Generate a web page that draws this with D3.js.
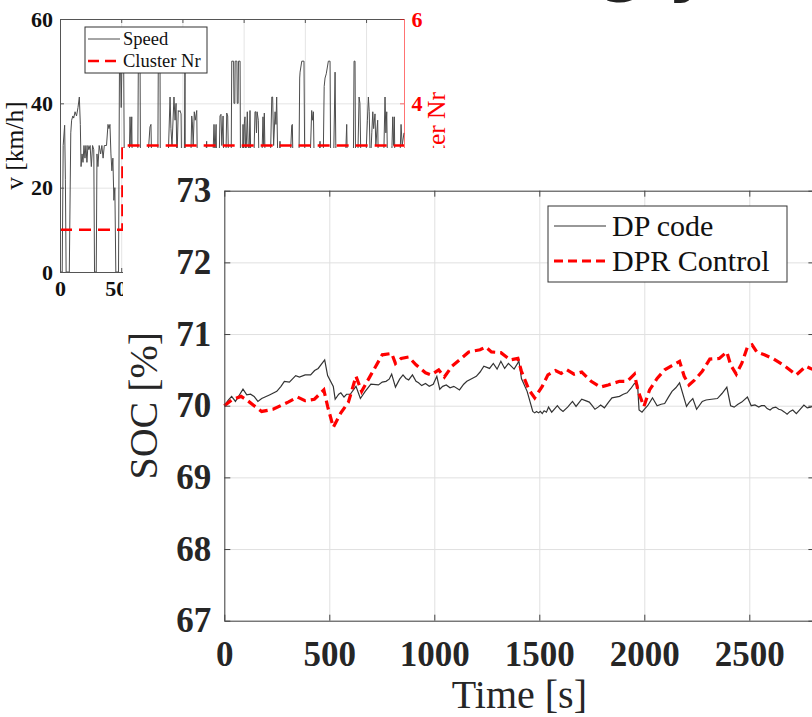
<!DOCTYPE html>
<html>
<head>
<meta charset="utf-8">
<script src="https://cdn.jsdelivr.net/npm/d3@7"></script>
<style>
  html, body { margin: 0; padding: 0; background: #fff; overflow: hidden; }
  svg { display: block; }
</style>
</head>
<body>
<svg id="chart" width="812" height="717"></svg>
<script>
// ---------- data ----------
const timeMax = 2810;
const timeTicks = [0, 500, 1000, 1500, 2000, 2500];
const socTicks = [67, 68, 69, 70, 71, 72, 73];
const speedTicks = [0, 20, 40, 60];
const clusterTicks = [0, 2, 4, 6];

// SOC trajectory of the DP code [time s, SOC %]
const dpCode = [
  [0,70.0],[20,70.08],[35,70.13],[53,70.06],[72,70.15],[89,70.23],[107,70.15],[125,70.16],[142,70.13],[160,70.06],[178,70.1],
  [215,70.15],[250,70.2],[270,70.27],[286,70.34],[310,70.33],[340,70.42],[358,70.4],[385,70.43],[411,70.43],[430,70.49],[447,70.52],[478,70.64],[492,70.42],
  [519,70.27],[528,70.09],[545,70.16],[555,70.18],[570,70.12],[582,70.16],[600,70.16],[627,70.27],[648,70.1],[671,70.2],
  [698,70.3],[734,70.29],[752,70.33],[770,70.34],[785,70.37],[797,70.44],[815,70.26],[835,70.37],[851,70.43],[865,70.38],[878,70.36],[896,70.43],
  [913,70.34],[925,70.32],[940,70.28],[958,70.31],[976,70.27],[995,70.3],[1012,70.41],[1026,70.23],[1040,70.27],[1057,70.29],[1075,70.25],[1093,70.27],
  [1120,70.22],[1140,70.3],[1155,70.34],[1180,70.38],[1200,70.41],[1218,70.47],[1236,70.55],[1263,70.52],[1281,70.59],[1299,70.51],[1317,70.62],
  [1335,70.52],[1353,70.59],[1380,70.51],[1403,70.62],[1415,70.38],[1442,70.2],[1469,69.92],[1478,69.9],[1487,69.92],
  [1496,69.9],[1505,69.92],[1514,69.89],[1523,69.93],[1534,69.91],[1544,69.98],[1559,69.91],[1574,69.96],[1586,70.0],[1600,69.95],[1613,69.92],[1635,69.98],[1658,70.06],[1675,69.99],
  [1702,70.09],[1720,70.07],[1738,70.05],[1752,70.0],[1765,69.95],[1780,69.98],[1792,70.01],[1810,69.97],[1830,70.05],[1846,70.11],[1864,70.12],[1882,70.13],[1900,70.16],[1918,70.18],
  [1936,70.24],[1953,70.31],[1968,70.29],[1975,69.94],[1989,69.91],[2003,69.96],[2016,70.0],[2039,70.11],[2061,70.0],[2080,70.02],[2097,70.03],
  [2115,70.12],[2132,70.2],[2150,70.25],[2168,70.32],[2201,69.99],[2215,70.05],[2231,70.1],[2249,69.95],[2276,70.06],[2294,70.08],[2320,70.09],[2348,70.1],
  [2370,70.17],[2393,70.26],[2411,70.0],[2428,69.98],[2446,70.02],[2464,70.05],[2491,70.12],[2509,70.0],[2527,70.01],[2545,69.98],[2558,70.0],[2572,70.0],
  [2585,69.96],[2599,69.94],[2612,69.97],[2626,69.98],[2640,69.95],[2653,69.94],[2668,69.91],[2680,69.88],[2694,69.92],[2707,69.94],[2724,69.89],[2742,69.95],[2760,70.01],[2776,69.97],[2792,69.98],
  [2810,70.0]
];

// SOC trajectory of the DPR controller [time s, SOC %]
const dprControl = [
  [0,70.0],[35,70.08],[80,70.13],[107,70.08],[142,70.0],[178,69.92],[232,69.95],[304,70.05],
  [349,70.12],[384,70.07],[429,70.09],[474,70.22],[492,69.99],[519,69.7],[555,69.9],[591,70.05],
  [627,70.41],[654,70.2],[698,70.43],[752,70.71],[797,70.73],[815,70.59],[842,70.66],[878,70.68],
  [913,70.57],[958,70.46],[985,70.43],[1021,70.5],[1048,70.4],[1084,70.55],[1129,70.66],[1164,70.75],
  [1218,70.78],[1245,70.82],[1272,70.75],[1317,70.74],[1362,70.64],[1398,70.66],[1415,70.48],[1451,70.22],
  [1478,70.11],[1514,70.27],[1541,70.43],[1577,70.49],[1604,70.45],[1631,70.5],[1666,70.44],[1702,70.47],
  [1747,70.34],[1792,70.26],[1828,70.29],[1882,70.34],[1918,70.34],[1953,70.44],[1971,70.2],[1998,69.99],
  [2025,70.22],[2061,70.38],[2097,70.5],[2132,70.56],[2168,70.62],[2190,70.41],[2213,70.29],[2240,70.36],
  [2276,70.48],[2312,70.65],[2357,70.66],[2393,70.75],[2411,70.57],[2438,70.44],[2464,70.59],[2491,70.82],
  [2513,70.85],[2536,70.75],[2572,70.71],[2617,70.65],[2671,70.55],[2724,70.43],[2769,70.55],[2792,70.52],
  [2810,70.5]
];

// driving cycle speed [time s, km/h]
const speed = [
  [0,0],[18,0],[26,30],[38,34.8],[44,22],[50,0],[66,0],[76,0],[88,33],[95,36],[105,37],[112,36.5],
  [123,38],[135,37],[147,39],[158,41.5],[166,35],[172,25],[180,28],[188,26],[196,30],[204,27],[212,30],
  [220,26],[228,30],[236,29],[246,30],[256,25],[266,30],[276,29],[282,0],[296,0],[302,28],[310,25],
  [320,30],[332,28],[342,30],[352,27],[362,30],[380,30],[392,35],[400,34],[408,35],[416,28],[424,24],
  [432,27],[440,17],[448,20],[456,0],[478,0],[486,50],[494,50],[500,39],[506,50],[520,50],[528,12],
  [545,5],[560,18],[572,36.8],[580,30],[586,36.8],[592,20],[610,8],[630,0],[640,50],[654,50],[660,5],
  [680,0],[700,15],[720,28],[735,34.4],[743,35],[750,24],[770,12],[795,0],[803,50],[817,50],[822,0],
  [850,0],[870,20],[885,28],[899,41.5],[906,34],[915,30],[931,41.5],[940,36],[948,40],[955,26],
  [966,38.3],[972,38],[980,38.3],[989,37.5],[995,20],[1010,0],[1021,50],[1026,0],[1045,5],[1065,22],
  [1076,37],[1081,35.6],[1088,30],[1097,38],[1105,36],[1117,38.3],[1124,20],[1150,10],[1175,22],
  [1192,28],[1198,31],[1205,20],[1230,18],[1250,28],[1258,35],[1266,28],[1275,35],[1282,20],[1300,26],
  [1307,37],[1315,37.4],[1322,30],[1332,37],[1340,22],[1355,27],[1362,37.7],[1370,37],[1378,24],
  [1395,10],[1403,50],[1418,50],[1421,40],[1428,40],[1431,50],[1445,50],[1448,40],[1455,40],[1458,50],
  [1471,50],[1476,12],[1490,25],[1495,35],[1500,28],[1506,35.3],[1511,36.8],[1518,26],[1530,38],
  [1537,30],[1545,28],[1552,38.3],[1560,24],[1580,22],[1593,38],[1599,38],[1605,33],[1610,38],[1620,36],
  [1628,20],[1645,22],[1658,36.8],[1664,30],[1669,37.7],[1678,22],[1700,15],[1720,28],[1730,41.5],
  [1737,41.5],[1745,30],[1757,38],[1764,35],[1770,41.5],[1778,28],[1790,25],[1797,31],[1805,18],
  [1830,5],[1860,15],[1880,26],[1893,34.8],[1898,35],[1905,22],[1930,5],[1950,20],[1958,46],[1961,47.4],
  [1975,50],[1993,50],[1998,30],[2020,20],[2045,28],[2056,38.3],[2063,36],[2070,38],[2078,22],[2100,15],
  [2118,28],[2124,31],[2132,20],[2150,26],[2158,44],[2165,46],[2175,47],[2192,50],[2206,50],[2212,20],
  [2235,26],[2247,47.4],[2253,30],[2265,10],[2300,5],[2325,22],[2336,30],[2342,35],[2348,24],[2370,12],
  [2395,20],[2402,50],[2410,50],[2415,20],[2432,26],[2443,41.5],[2450,40],[2458,26],[2480,22],[2500,28],
  [2511,36],[2519,41.5],[2526,38],[2535,25],[2547,33],[2555,38],[2562,34],[2573,37.5],[2580,30],
  [2595,36],[2602,22],[2625,12],[2645,28],[2655,41.5],[2662,33],[2669,38],[2677,22],[2700,18],
  [2712,30],[2718,36.8],[2725,30],[2731,36.8],[2738,20],[2760,15],[2778,28],[2786,35],[2795,30],[2810,33]
];

// cluster number along the cycle [time s, cluster]
const clusterNr = [[0,1],[510,1],[510,3],[2810,3]];

// ---------- drawing ----------
const serif = '"Liberation Serif", "Times New Roman", serif';
const ink = "#262626";
const intFmt = d3.format("d");
const svg = d3.select("#chart");

// slide title running off the top edge
svg.append("text")
  .attr("x", 600).attr("y", -11)
  .attr("font-family", '"DejaVu Sans", sans-serif')
  .attr("font-weight", "bold")
  .attr("font-size", 64)
  .attr("letter-spacing", 22)
  .attr("fill", "#222")
  .text("gy");

// ===== speed / cluster chart =====
const gi = svg.append("g");
const xi = d3.scaleLinear().domain([0, timeMax]).range([60, 404]);
const yi = d3.scaleLinear().domain([0, 60]).range([272, 19]);
const yc = d3.scaleLinear().domain([0, 6]).range([272, 19]);
// SOC figure panel laid over the lower right of this chart
const panel = { x: 123, y: 148 };

// grid
gi.append("g").attr("transform", "translate(0,272)")
  .call(d3.axisBottom(xi).tickValues(timeTicks).tickSize(-253).tickFormat(""))
  .call(g => g.select(".domain").remove())
  .call(g => g.selectAll("line").attr("stroke", "#e4e4e4"));
gi.append("g").attr("transform", "translate(60,0)")
  .call(d3.axisLeft(yi).tickValues(speedTicks).tickSize(-344).tickFormat(""))
  .call(g => g.select(".domain").remove())
  .call(g => g.selectAll("line").attr("stroke", "#e4e4e4"));

const speedLine = d3.line().x(d => xi(d[0])).y(d => yi(d[1]));
gi.append("path").datum(speed)
  .attr("d", speedLine)
  .attr("fill", "none").attr("stroke", "#4d4d4d").attr("stroke-width", 1);

const clusterLine = d3.line().x(d => xi(d[0])).y(d => yc(d[1]));
gi.append("path").datum(clusterNr)
  .attr("d", clusterLine)
  .attr("fill", "none").attr("stroke", "#ff0000").attr("stroke-width", 2.5)
  .attr("stroke-dasharray", "12,7");

// axes
const tickFont = g => g.selectAll("text")
  .attr("font-family", serif).attr("font-weight", "bold").attr("font-size", 22);

// tick labels that end up under the SOC panel are left out
const insetTimeLabels = timeTicks.filter(t => xi(t) - 20 < panel.x);
const insetClusterLabels = clusterTicks.filter(c => yc(c) < panel.y);

gi.append("g").attr("transform", "translate(0,272)")
  .call(d3.axisBottom(xi).tickValues(insetTimeLabels).tickFormat(intFmt).tickSizeInner(-4).tickSizeOuter(0).tickPadding(8))
  .call(g => g.select(".domain").attr("stroke", "#555"))
  .call(g => g.selectAll("line").attr("stroke", "#555"))
  .call(g => g.selectAll("text").attr("fill", "#111"))
  .call(tickFont);
gi.append("g").attr("transform", "translate(0,19)")
  .call(d3.axisTop(xi).tickValues(timeTicks).tickSizeInner(-4).tickSizeOuter(0).tickFormat(""))
  .call(g => g.select(".domain").attr("stroke", "#555"))
  .call(g => g.selectAll("line").attr("stroke", "#555"));
gi.append("g").attr("transform", "translate(60,0)")
  .call(d3.axisLeft(yi).tickValues(speedTicks).tickFormat(intFmt).tickSizeInner(-4).tickSizeOuter(0).tickPadding(7))
  .call(g => g.select(".domain").attr("stroke", "#555"))
  .call(g => g.selectAll("line").attr("stroke", "#555"))
  .call(g => g.selectAll("text").attr("fill", "#111"))
  .call(tickFont);
gi.append("g").attr("transform", "translate(404,0)")
  .call(d3.axisRight(yc).tickValues(insetClusterLabels).tickFormat(intFmt).tickSizeInner(-4).tickSizeOuter(0).tickPadding(7.5))
  .call(g => g.select(".domain").attr("stroke", "#ff0000").attr("stroke-opacity", 0.55))
  .call(g => g.selectAll("line").attr("stroke", "#ff0000").attr("stroke-opacity", 0.55))
  .call(g => g.selectAll("text").attr("fill", "#ff0000"))
  .call(tickFont);

// axis titles
gi.append("text")
  .attr("transform", "translate(23,145.5) rotate(-90)")
  .attr("text-anchor", "middle")
  .attr("font-family", serif).attr("font-size", 25.5).attr("fill", "#111")
  .text("v [km/h]");
gi.append("text")
  .attr("transform", "translate(445,145.5) rotate(-90)")
  .attr("text-anchor", "middle")
  .attr("font-family", serif).attr("font-size", 25.5).attr("fill", "#ff0000")
  .text("Cluster Nr");

// legend
const li = gi.append("g");
li.append("rect").attr("x", 85).attr("y", 27).attr("width", 122).attr("height", 46)
  .attr("fill", "#fff").attr("stroke", "#333").attr("stroke-width", 1);
li.append("line").attr("x1", 88).attr("x2", 120).attr("y1", 39).attr("y2", 39)
  .attr("stroke", "#4d4d4d").attr("stroke-width", 1);
li.append("line").attr("x1", 88).attr("x2", 117).attr("y1", 61).attr("y2", 61)
  .attr("stroke", "#ff0000").attr("stroke-width", 2.5).attr("stroke-dasharray", "11,6");
li.append("text").attr("x", 123).attr("y", 45)
  .attr("font-family", serif).attr("font-size", 18.5).attr("fill", "#111").text("Speed");
li.append("text").attr("x", 123).attr("y", 67)
  .attr("font-family", serif).attr("font-size", 18.5).attr("fill", "#111").text("Cluster Nr");

// ===== SOC chart on its own white figure =====
svg.append("rect").attr("x", panel.x).attr("y", panel.y).attr("width", 700).attr("height", 580)
  .attr("fill", "#fff");

const gm = svg.append("g");
const x = d3.scaleLinear().domain([0, timeMax]).range([224.3, 224.3 + timeMax * 0.21]);
const y = d3.scaleLinear().domain([67, 73]).range([620.7, 190.7]);
const W = x(timeMax) - x(0), H = y(67) - y(73);

// grid
gm.append("g").attr("transform", `translate(0,${y(67)})`)
  .call(d3.axisBottom(x).tickValues(timeTicks).tickSize(-H).tickFormat(""))
  .call(g => g.select(".domain").remove())
  .call(g => g.selectAll("line").attr("stroke", "#e0e0e0"));
gm.append("g").attr("transform", `translate(${x(0)},0)`)
  .call(d3.axisLeft(y).tickValues(socTicks).tickSize(-W).tickFormat(""))
  .call(g => g.select(".domain").remove())
  .call(g => g.selectAll("line").attr("stroke", "#e0e0e0"));

// series
const socLine = d3.line().x(d => x(d[0])).y(d => y(d[1]));
gm.append("path").datum(dpCode)
  .attr("d", socLine)
  .attr("fill", "none").attr("stroke", "#333").attr("stroke-width", 1.2);
gm.append("path").datum(dprControl)
  .attr("d", socLine)
  .attr("fill", "none").attr("stroke", "#ff0000").attr("stroke-width", 3.2)
  .attr("stroke-dasharray", "9,5");

// axes (ticks point inward, box all round)
const mainFont = g => g.selectAll("text")
  .attr("font-family", serif).attr("font-weight", "bold").attr("font-size", 35).attr("fill", ink);

gm.append("g").attr("transform", `translate(0,${y(67)})`)
  .call(d3.axisBottom(x).tickValues(timeTicks).tickFormat(intFmt).tickSizeInner(-6).tickSizeOuter(0).tickPadding(20))
  .call(g => g.select(".domain").attr("stroke", "#444"))
  .call(g => g.selectAll("line").attr("stroke", "#444"))
  .call(mainFont);
gm.append("g").attr("transform", `translate(0,${y(73)})`)
  .call(d3.axisTop(x).tickValues(timeTicks).tickSizeInner(-6).tickSizeOuter(0).tickFormat(""))
  .call(g => g.select(".domain").attr("stroke", "#444"))
  .call(g => g.selectAll("line").attr("stroke", "#444"));
gm.append("g").attr("transform", `translate(${x(0)},0)`)
  .call(d3.axisLeft(y).tickValues(socTicks).tickFormat(intFmt).tickSizeInner(-6).tickSizeOuter(0).tickPadding(13))
  .call(g => g.select(".domain").attr("stroke", "#444"))
  .call(g => g.selectAll("line").attr("stroke", "#444"))
  .call(mainFont);
gm.append("g").attr("transform", `translate(${x(timeMax)},0)`)
  .call(d3.axisRight(y).tickValues(socTicks).tickSizeInner(-6).tickSizeOuter(0).tickFormat(""))
  .call(g => g.select(".domain").attr("stroke", "#444"))
  .call(g => g.selectAll("line").attr("stroke", "#444"));

// axis titles
gm.append("text")
  .attr("x", (x(0) + x(timeMax)) / 2).attr("y", 708)
  .attr("text-anchor", "middle")
  .attr("font-family", serif).attr("font-size", 40).attr("fill", ink)
  .text("Time [s]");
gm.append("text")
  .attr("transform", `translate(157,${(y(67) + y(73)) / 2}) rotate(-90)`)
  .attr("text-anchor", "middle")
  .attr("font-family", serif).attr("font-size", 40).attr("fill", ink)
  .text("SOC [%]");

// legend
const lm = gm.append("g");
lm.append("rect").attr("x", 548).attr("y", 206).attr("width", 239).attr("height", 76)
  .attr("fill", "#fff").attr("stroke", "#333").attr("stroke-width", 1);
lm.append("line").attr("x1", 554).attr("x2", 606).attr("y1", 226).attr("y2", 226)
  .attr("stroke", "#333").attr("stroke-width", 1.2);
lm.append("line").attr("x1", 554).attr("x2", 606).attr("y1", 261).attr("y2", 261)
  .attr("stroke", "#ff0000").attr("stroke-width", 3.2).attr("stroke-dasharray", "9,5");
lm.append("text").attr("x", 612).attr("y", 236)
  .attr("font-family", serif).attr("font-size", 30).attr("fill", "#111").text("DP code");
lm.append("text").attr("x", 612).attr("y", 271)
  .attr("font-family", serif).attr("font-size", 30).attr("fill", "#111").text("DPR Control");
</script>
</body>
</html>
